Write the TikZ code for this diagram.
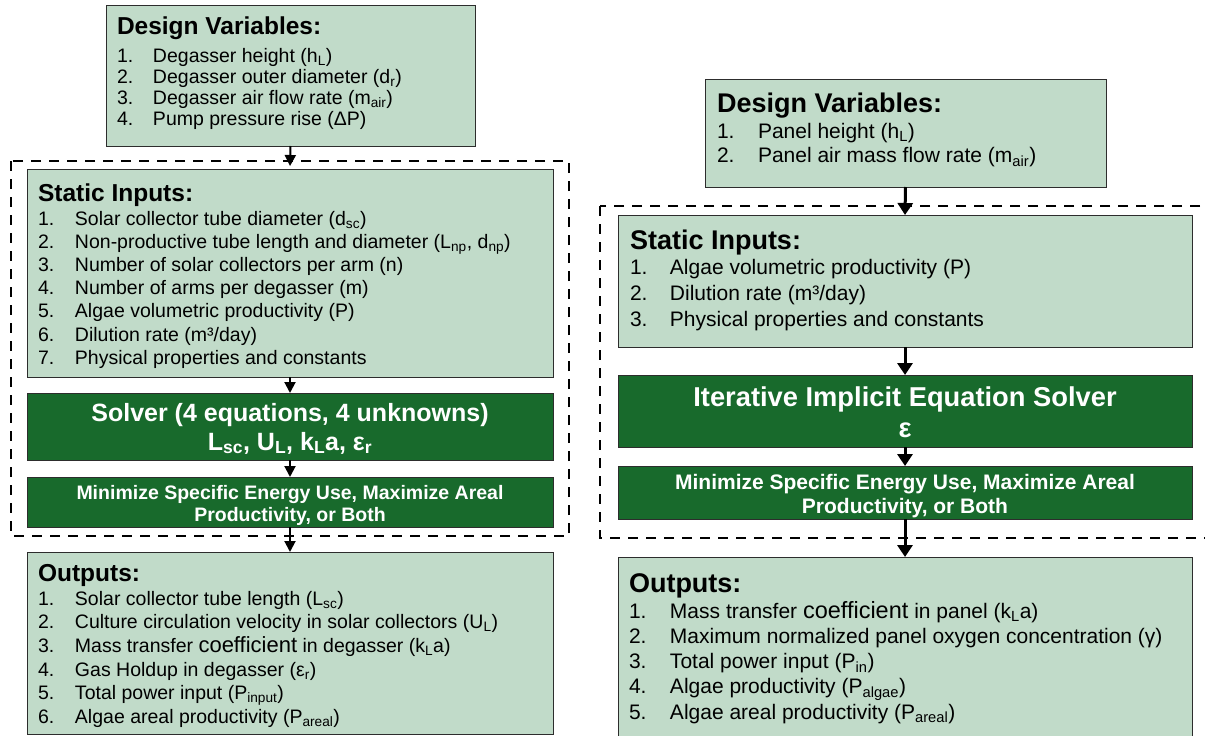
\documentclass[tikz,border=0pt]{standalone}
\usepackage{fontspec}
\setmainfont{Liberation Sans}
\usetikzlibrary{arrows.meta}
\definecolor{lightg}{RGB}{193,219,201}
\definecolor{darkg}{RGB}{24,106,44}
\definecolor{edge}{RGB}{45,45,45}
\newlength\iw
\newcommand{\sbs}[1]{\textsubscript{#1}}
\newcommand{\itm}[2]{\makebox[\iw][l]{#1}#2}
\newcommand{\hdL}[1]{\rule{0pt}{20pt}{\fontsize{24.5}{24.5}\bfseries\selectfont #1}}
\newcommand{\hdR}[1]{\rule{0pt}{22pt}{\fontsize{27}{27}\bfseries\selectfont #1}}
\newcommand{\coefL}{{\fontsize{22}{22}\selectfont coefficient}}
\newcommand{\coefR}{{\fontsize{23.5}{23.5}\selectfont coefficient}}
\begin{document}
\begin{tikzpicture}[x=1pt,y=-1pt,
  lbox/.style={draw=edge,line width=0.9pt,fill=lightg,inner sep=0pt,outer sep=0pt,anchor=north west},
  dbox/.style={draw=edge,line width=0.9pt,fill=darkg,inner sep=0pt,outer sep=0pt,anchor=north west},
  frame/.style={draw=black,line width=2.6pt,dash pattern=on 10pt off 8pt},
  lst/.style={anchor=north west,inner sep=0pt,outer sep=0pt,align=left,text=black},
  wtxt/.style={anchor=base,inner sep=0pt,text=white},
  arrL/.style={line width=2pt,-{Triangle[length=11pt,width=11pt]}},
  arrR/.style={line width=3pt,-{Triangle[length=12pt,width=15pt]}},
]
\useasboundingbox (0,0) rectangle (1205,736);
\clip (0,0) rectangle (1205,736);
\fill[white] (0,0) rectangle (1205,736);

% dashed frames
\draw[frame] (11,161) rectangle (569,536);
\draw[frame] (600,206) rectangle (1225,538);

% ---------- left column ----------
\node[lbox,minimum width=369pt,minimum height=141pt] (dvL) at (106,5) {};
\node[lbox,minimum width=526pt,minimum height=208pt] (statL) at (27,169) {};
\node[dbox,minimum width=526pt,minimum height=67pt] (solL) at (27,393) {};
\node[dbox,minimum width=526pt,minimum height=50pt] (minL) at (27,477) {};
\node[lbox,minimum width=526pt,minimum height=182pt] (outL) at (27,552) {};

\node[lst,font=\setlength{\iw}{36pt}\fontsize{19.5}{21}\selectfont] (dvLt) at (117,14) {%
\hdL{Design Variables:}\\[7pt]
\itm{1.}{Degasser height (h\sbs{L})}\\
\itm{2.}{Degasser outer diameter (d\sbs{r})}\\
\itm{3.}{Degasser air flow rate (m\sbs{air})}\\
\itm{4.}{Pump pressure rise (ΔP)}};

\node[lst,font=\setlength{\iw}{37pt}\fontsize{19.5}{23.2}\selectfont] (statLt) at (38,181) {%
\hdL{Static Inputs:}\\[0.8pt]
\itm{1.}{Solar collector tube diameter (d\sbs{sc})}\\
\itm{2.}{Non-productive tube length and diameter (L\sbs{np}, d\sbs{np})}\\
\itm{3.}{Number of solar collectors per arm (n)}\\
\itm{4.}{Number of arms per degasser (m)}\\
\itm{5.}{Algae volumetric productivity (P)}\\
\itm{6.}{Dilution rate (m³/day)}\\
\itm{7.}{Physical properties and constants}};

\node[wtxt,font=\fontsize{25}{25}\bfseries\selectfont] (solL1) at (290,421) {Solver (4 equations, 4 unknowns)};
\node[wtxt,font=\fontsize{25}{25}\bfseries\selectfont] (solL2) at (290,450) {L\sbs{sc}, U\sbs{L}, k\sbs{L}a, ε\sbs{r}};
\node[wtxt,font=\fontsize{19.5}{19.5}\bfseries\selectfont] (minL1) at (290,499.5) {Minimize Specific Energy Use, Maximize Areal};
\node[wtxt,font=\fontsize{19.5}{19.5}\bfseries\selectfont] (minL2) at (290,521) {Productivity, or Both};

\node[lst,font=\setlength{\iw}{37pt}\fontsize{19.5}{23.7}\selectfont] (outLt) at (38,561) {%
\hdL{Outputs:}\\[0.3pt]
\itm{1.}{Solar collector tube length (L\sbs{sc})}\\
\itm{2.}{Culture circulation velocity in solar collectors (U\sbs{L})}\\
\itm{3.}{Mass transfer \coefL{} in degasser (k\sbs{L}a)}\\
\itm{4.}{Gas Holdup in degasser (ε\sbs{r})}\\
\itm{5.}{Total power input (P\sbs{input})}\\
\itm{6.}{Algae areal productivity (P\sbs{areal})}};

% ---------- right column ----------
\node[lbox,minimum width=401pt,minimum height=108pt] (dvR) at (705,79) {};
\node[lbox,minimum width=574pt,minimum height=132pt] (statR) at (618,215) {};
\node[dbox,minimum width=574pt,minimum height=72pt] (itR) at (618,375) {};
\node[dbox,minimum width=574pt,minimum height=53pt] (minR) at (618,466) {};
\node[lbox,minimum width=574pt,minimum height=190pt] (outR) at (618,557) {};

\node[lst,font=\setlength{\iw}{41pt}\fontsize{21}{24.5}\selectfont] (dvRt) at (717,90.6) {%
\hdR{Design Variables:}\\[1pt]
\itm{1.}{Panel height (h\sbs{L})}\\
\itm{2.}{Panel air mass flow rate (m\sbs{air})}};

\node[lst,font=\setlength{\iw}{40pt}\fontsize{21}{26}\selectfont] (statRt) at (630,227.6) {%
\hdR{Static Inputs:}\\[-1pt]
\itm{1.}{Algae volumetric productivity (P)}\\
\itm{2.}{Dilution rate (m³/day)}\\
\itm{3.}{Physical properties and constants}};

\node[wtxt,font=\fontsize{27.3}{27.3}\bfseries\selectfont] (itR1) at (905,406) {Iterative Implicit Equation Solver};
\node[wtxt,font=\fontsize{27.3}{27.3}\bfseries\selectfont] (itR2) at (905,437.5) {ε};
\node[wtxt,font=\fontsize{21}{21}\bfseries\selectfont] (minR1) at (905,489) {Minimize Specific Energy Use, Maximize Areal};
\node[wtxt,font=\fontsize{21}{21}\bfseries\selectfont] (minR2) at (905,513.5) {Productivity, or Both};

\node[lst,font=\setlength{\iw}{41pt}\fontsize{21}{25.2}\selectfont] (outRt) at (629,570.6) {%
\hdR{Outputs:}\\[0.5pt]
\itm{1.}{Mass transfer \coefR{} in panel (k\sbs{L}a)}\\
\itm{2.}{Maximum normalized panel oxygen concentration (γ)}\\
\itm{3.}{Total power input (P\sbs{in})}\\
\itm{4.}{Algae productivity (P\sbs{algae})}\\
\itm{5.}{Algae areal productivity (P\sbs{areal})}};

% ---------- connectors ----------
\draw[arrL,shorten >=3pt] (dvL.south) -- (statL.north);
\draw[arrL] (statL.south) -- (solL.north);
\draw[arrL] (solL.south) -- (minL.north);
\draw[arrL] (minL.south) -- (outL.north);
\draw[arrR] (dvR.south) -- (statR.north);
\draw[arrR] (statR.south) -- (itR.north);
\draw[arrR] (itR.south) -- (minR.north);
\draw[arrR] (minR.south) -- (outR.north);
\end{tikzpicture}
\end{document}
